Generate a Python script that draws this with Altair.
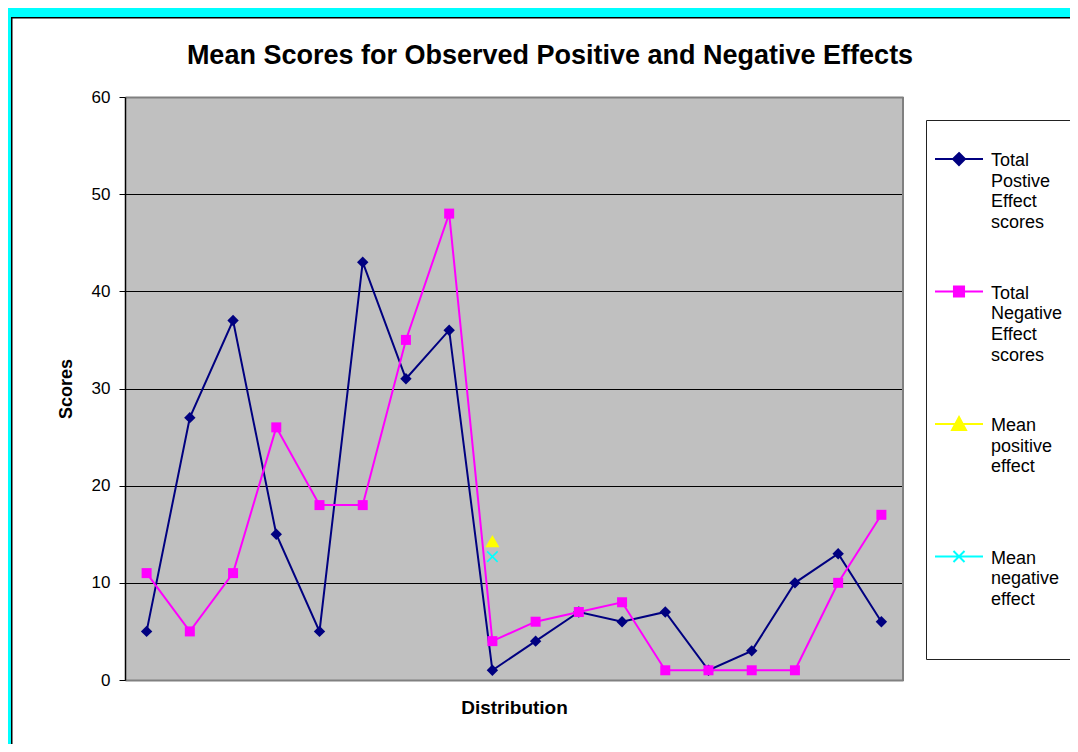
import altair as alt
import pandas as pd

# ---- data ----
categories = list(range(1, 19))
positive = [5, 27, 37, 15, 5, 43, 31, 36, 1, 4, 7, 6, 7, 1, 3, 10, 13, 6]
negative = [11, 5, 11, 26, 18, 18, 35, 48, 4, 6, 7, 8, 1, 1, 1, 1, 10, 17]
mean_category = [9]
mean_positive = [14.3]
mean_negative = [12.7]

series_names = [
    "Total Postive Effect scores",
    "Total Negative Effect scores",
    "Mean positive effect",
    "Mean negative effect",
]
series_colors = ["#000080", "#FF00FF", "#FFFF00", "#00FFFF"]
y_ticks = [0, 10, 20, 30, 40, 50, 60]

TITLE = "Mean Scores for Observed Positive and Negative Effects"
FONT = "Liberation Sans"

rows = []
for c, v in zip(categories, positive):
    rows.append({"cat": c, "value": v, "series": series_names[0]})
for c, v in zip(categories, negative):
    rows.append({"cat": c, "value": v, "series": series_names[1]})
for c, v in zip(mean_category, mean_positive):
    rows.append({"cat": c, "value": v, "series": series_names[2]})
for c, v in zip(mean_category, mean_negative):
    rows.append({"cat": c, "value": v, "series": series_names[3]})
df = pd.DataFrame(rows)

W, H = 778, 583

x_enc = alt.X(
    "cat:O",
    scale=alt.Scale(type="point", padding=0.5, domain=categories),
    axis=alt.Axis(
        labels=False, ticks=False, grid=False,
        domainColor="#808080", domainWidth=2,
        title="Distribution", titleFont=FONT, titleFontSize=19,
        titleFontWeight="bold", titleColor="black", titlePadding=18,
    ),
)
y_enc = alt.Y(
    "value:Q",
    scale=alt.Scale(domain=[0, 60], nice=False),
    axis=alt.Axis(
        values=y_ticks, grid=True,
        gridColor={"condition": {"test": "datum.value === 60", "value": "#808080"}, "value": "black"},
        gridWidth={"condition": {"test": "datum.value === 60", "value": 2}, "value": 1},
        domainColor="black", domainWidth=1.5,
        tickColor="black", tickSize=6, tickWidth=1,
        labelFont=FONT, labelFontSize=17, labelColor="black", labelPadding=9,
        title="Scores", titleFont=FONT, titleFontSize=18, titleFontWeight="bold",
        titleColor="black", titlePadding=16,
    ),
)

one = alt.Data(values=[{}])

# decorative frame: cyan border and black edge of the chart area
cyan_left = alt.Chart(one).mark_rect(color="#00FFFF").encode(
    x=alt.value(-117), x2=alt.value(-114), y=alt.value(-89), y2=alt.value(700))
cyan_top = alt.Chart(one).mark_rect(color="#00FFFF").encode(
    x=alt.value(-117), x2=alt.value(960), y=alt.value(-89), y2=alt.value(-80))
black_left = alt.Chart(one).mark_rect(color="black").encode(
    x=alt.value(-114), x2=alt.value(-112.5), y=alt.value(-80), y2=alt.value(700))
black_top = alt.Chart(one).mark_rect(color="black").encode(
    x=alt.value(-114), x2=alt.value(960), y=alt.value(-80), y2=alt.value(-78.5))
right_border = alt.Chart(one).mark_rule(color="#808080", strokeWidth=2).encode(
    x=alt.value(W), y=alt.value(0), y2=alt.value(H))

marker_shapes = ["diamond", "square", "triangle-up", "M-1,-1L1,1M-1,1L1,-1"]
marker_sizes = [130, 100, 200, 110]
marker_filled = [True, True, True, False]
series_layers = []
for name, shp, sz, fl, col in zip(series_names, marker_shapes, marker_sizes, marker_filled, series_colors):
    base = alt.Chart(df).transform_filter(alt.datum.series == name)
    series_layers.append(
        base.mark_line(strokeWidth=2, color=col).encode(x=x_enc, y=y_enc)
    )
    series_layers.append(
        base.mark_point(
            shape=shp, size=sz, filled=fl, color=col, opacity=1,
            strokeWidth=1.6,
        ).encode(x=x_enc, y=y_enc)
    )

# legend symbols: a line with the series marker on it
legend_paths = [
    "M-1,-0.29H1M0,-0.54L0.25,-0.29L0,-0.04L-0.25,-0.29Z",
    "M-1,-0.29H1M-0.21,-0.5H0.21V-0.08H-0.21Z",
    "M-1,-0.29H1M0,-0.58L0.29,-0.04H-0.29Z",
    "M-1,-0.29H1M-0.23,-0.52L0.23,-0.06M-0.23,-0.06L0.23,-0.52",
]

label_expr = (
    "datum.label == 'Mean positive effect' ? datum.label + ' ' : "
    "datum.label == 'Mean negative effect' ? datum.label + '  ' : datum.label"
)

leg = alt.Legend(
    title=" ", titleFontSize=10, titlePadding=3,
    orient="none", legendX=801, legendY=23,
    fillColor="white", strokeColor="#222222", padding=8,
    symbolSize=2304, symbolStrokeWidth=2, symbolOpacity=1,
    labelFont=FONT, labelFontSize=18, labelColor="black",
    labelOffset=7, labelBaseline="alphabetic", labelLimit=400,
    labelExpr=label_expr, rowPadding=40.5,
)

legend_layer = alt.Chart(df).transform_filter("datum.value < 0").mark_point(
    filled=True, strokeWidth=2,
).encode(
    x=x_enc, y=y_enc,
    fill=alt.Fill("series:N", scale=alt.Scale(domain=series_names, range=series_colors), legend=leg),
    stroke=alt.Stroke("series:N", scale=alt.Scale(domain=series_names, range=series_colors), legend=leg),
    shape=alt.Shape("series:N", scale=alt.Scale(domain=series_names, range=legend_paths), legend=leg),
)

chart = alt.layer(
    cyan_left, cyan_top, black_left, black_top, right_border,
    *series_layers, legend_layer,
).properties(
    width=W, height=H,
    autosize=alt.AutoSizeParams(type="none"),
    padding={"left": 117, "top": 89, "right": 167, "bottom": 64},
    background="white",
    title=alt.Title(
        TITLE, font=FONT, fontSize=27, fontWeight="bold", color="black",
        anchor="middle", dx=36, offset=-62,
    ),
).configure(
    style={"guide-label": {"lineHeight": 20.7, "lineBreak": " "}},
).configure_view(
    fill="#C0C0C0", stroke="transparent",
)

chart.save("out.html", embed_options={"renderer": "svg", "actions": False})
